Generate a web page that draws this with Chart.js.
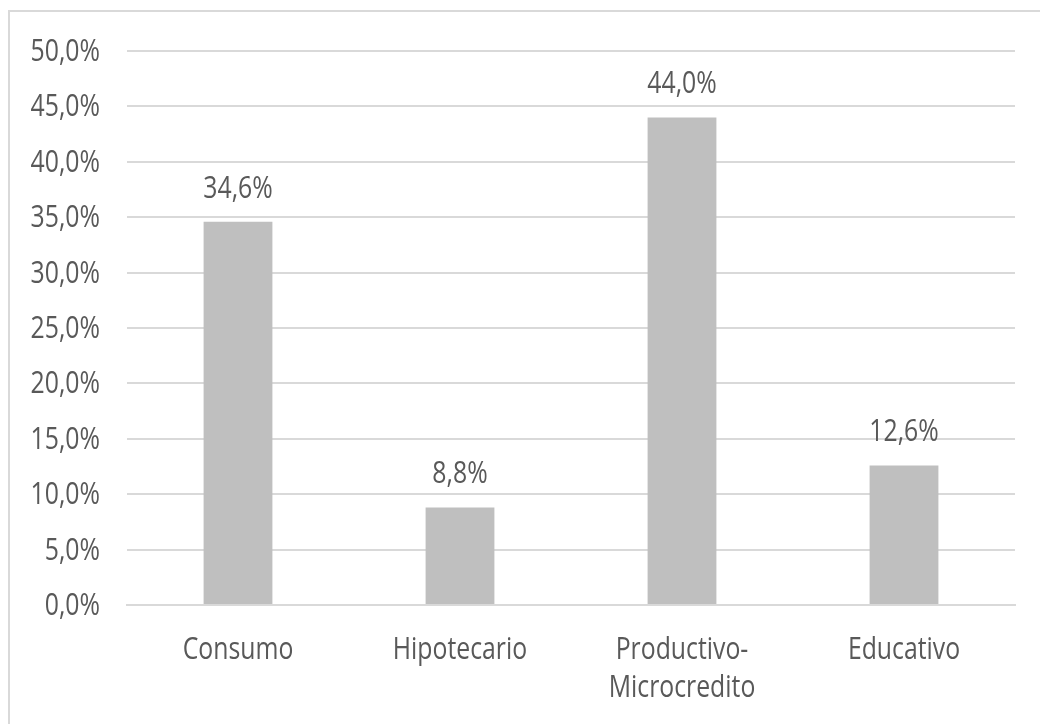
<!DOCTYPE html>
<html lang="es">
<head>
<meta charset="utf-8">
<title>Distribución por tipo de crédito</title>
<script src="https://cdn.jsdelivr.net/npm/chart.js@4.4.1/dist/chart.umd.min.js"></script>
<style>
  html, body { margin: 0; padding: 0; background: #fff; }
  .wrap { position: relative; width: 1040px; height: 724px; overflow: hidden; }
  .frame {
    position: absolute; left: 8px; top: 10px; width: 1100px; height: 800px;
    border: 2px solid #d9d9d9; pointer-events: none;
  }
  canvas { position: absolute; left: 0; top: 0; }
</style>
</head>
<body>
<div class="wrap">
  <canvas id="chartCredito" width="1040" height="724"></canvas>
  <div class="frame"></div>
</div>
<script>
  'use strict';

  const categorias = ['Consumo', 'Hipotecario', ['Productivo-', 'Microcredito'], 'Educativo'];
  const porcentajes = [34.6, 8.8, 44.0, 12.6];
  const yTicks = [0, 5, 10, 15, 20, 25, 30, 35, 40, 45, 50];

  const FONT = '31px "Open Sans", "DejaVu Sans", sans-serif';
  const NARROW = 0.8;   // horizontal squeeze for all text
  const TEXT = '#595959';
  const GRID = '#d9d9d9';

  function fmtPct(v) {
    return Number(v).toFixed(1).replace('.', ',') + '%';
  }

  function narrowText(ctx, text, x, y) {
    ctx.save();
    ctx.translate(x, y);
    ctx.scale(NARROW, 1);
    ctx.fillText(text, 0, 0);
    ctx.restore();
  }

  // axis labels and value labels, drawn with condensed glyphs
  const textLayer = {
    id: 'textLayer',
    afterDraw(chart) {
      const ctx = chart.ctx;
      const y = chart.scales.y;
      const x = chart.scales.x;
      ctx.save();
      ctx.font = FONT;
      ctx.fillStyle = TEXT;
      ctx.textBaseline = 'alphabetic';

      ctx.textAlign = 'right';
      yTicks.forEach((v) => narrowText(ctx, fmtPct(v), y.right - 27, y.getPixelForValue(v) + 10));

      ctx.textAlign = 'center';
      categorias.forEach((c, i) => {
        const lines = Array.isArray(c) ? c : [c];
        const cx = x.getPixelForValue(i);
        lines.forEach((ln, k) => narrowText(ctx, ln, cx, x.top + 54 + k * 38));
      });

      const meta = chart.getDatasetMeta(0);
      meta.data.forEach((bar, i) => narrowText(ctx, fmtPct(porcentajes[i]), bar.x, bar.y - 24));
      ctx.restore();
    }
  };

  const ctx = document.getElementById('chartCredito').getContext('2d');
  new Chart(ctx, {
    type: 'bar',
    data: {
      labels: categorias,
      datasets: [{
        data: porcentajes,
        backgroundColor: '#bfbfbf',
        barPercentage: 0.31,
        categoryPercentage: 1
      }]
    },
    options: {
      responsive: false,
      animation: false,
      layout: { padding: { top: 51, right: 25, left: 0, bottom: 0 } },
      plugins: {
        legend: { display: false },
        tooltip: { enabled: false }
      },
      scales: {
        y: {
          min: 0,
          max: 50,
          afterBuildTicks: (scale) => { scale.ticks = yTicks.map((v) => ({ value: v })); },
          afterFit: (scale) => { scale.width = 127; },
          ticks: { display: false },
          grid: { color: GRID, lineWidth: 2, drawTicks: false },
          border: { display: false }
        },
        x: {
          afterFit: (scale) => { scale.height = 119; },
          ticks: { display: false },
          grid: { display: false, drawTicks: false },
          border: { display: true, color: GRID, width: 2 }
        }
      }
    },
    plugins: [textLayer]
  });
</script>
</body>
</html>
